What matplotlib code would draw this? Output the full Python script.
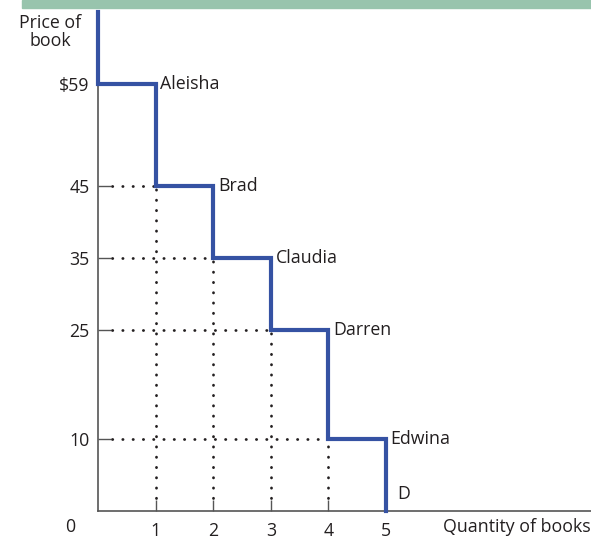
import matplotlib
matplotlib.use("Agg")
import matplotlib.pyplot as plt
from matplotlib.patches import Rectangle

plt.rcParams['font.family'] = ['Open Sans', 'DejaVu Sans']

# data
buyers = ["Aleisha", "Brad", "Claudia", "Darren", "Edwina"]
prices = [59, 45, 35, 25, 10]
quantities = [1, 2, 3, 4, 5]
x_ticks = [0, 1, 2, 3, 4, 5]
y_tick_labels = ["$59", "45", "35", "25", "10"]

blue = "#3552a3"
ink = "#231f20"
fs = 12.8

fig = plt.figure(figsize=(5.91, 5.39), dpi=100)
W, H = 591, 539
x0, y0, x1, y1 = 98, 511, 591, 12   # axes box in pixels
ax = fig.add_axes([x0 / W, (H - y0) / H, (x1 - x0) / W, (y0 - y1) / H])
ymax = 69
xmax = (x1 - x0) / 57.6
ax.set_xlim(0, xmax)
ax.set_ylim(0, ymax)

# green strip at the top
fig.patches.append(Rectangle((22 / W, (H - 8) / H), 1, 8 / H, transform=fig.transFigure,
                             color="#98c4ad", zorder=0))

# step demand curve
sx = [0, 0]
sy = [ymax, prices[0]]
for i, q in enumerate(quantities):
    sx += [q, q]
    sy += [prices[i], prices[i + 1] if i + 1 < len(prices) else 0]
ax.plot(sx, sy, color=blue, lw=3, solid_joinstyle="miter", clip_on=False, zorder=3)

# dotted guides
dot = dict(color=ink, lw=2.0, linestyle=(0, (0.1, 3.6)), dash_capstyle="round", zorder=2)
for q, p in zip(quantities[:-1], prices[1:]):
    ax.plot([0.25, q], [p, p], **dot)
    ax.plot([q, q], [0.25 * 7, p], **dot)

# labels next to the steps
for q, p, name in zip(quantities, prices, buyers):
    ax.text(q + 0.08, p, name, ha="left", va="center", fontsize=fs, color=ink)
ax.text(5.2, 2.3, "D", ha="left", va="center", fontsize=fs, color=ink)

# axes styling
for s in ["top", "right"]:
    ax.spines[s].set_visible(False)
for s in ["left", "bottom"]:
    ax.spines[s].set_color("#555555")
    ax.spines[s].set_linewidth(1.2)

ax.set_yticks(prices)
ax.set_yticklabels(y_tick_labels)
ax.set_xticks(x_ticks[1:])
ax.set_xticklabels([str(x) for x in x_ticks[1:]])
ax.tick_params(axis="y", direction="in", length=9, width=1, color="#555555",
               labelsize=fs, labelcolor=ink, pad=6)
ax.tick_params(axis="x", direction="in", length=8, width=1, color="#555555",
               labelsize=fs, labelcolor=ink, pad=8)
fig.text(70 / W, (H - 527) / H, "0", ha="center", va="center", fontsize=fs, color=ink)
fig.text(591 / W, (H - 527) / H, "Quantity of books", ha="right", va="center",
         fontsize=fs, color=ink)
fig.text(50 / W, (H - 32) / H, "Price of\nbook", ha="center", va="center",
         fontsize=fs, color=ink, linespacing=1.05)

fig.savefig("out.png", dpi=100)
